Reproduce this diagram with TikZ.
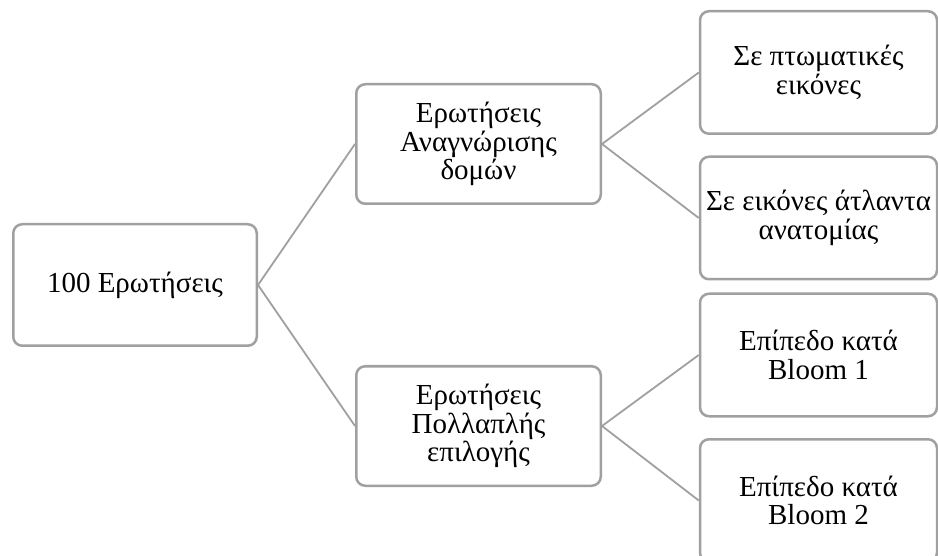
\documentclass[tikz,border=0pt]{standalone}
\usepackage{fontspec}
\setmainfont{Liberation Serif}
\usepackage{tikz}
\usetikzlibrary{positioning}

\definecolor{boxgray}{RGB}{160,160,160}

\begin{document}
\begin{tikzpicture}[
        x=1pt, y=-1pt,
        node distance=20.5pt,
        box/.style={draw=boxgray, line width=2.5pt, rounded corners=9pt, fill=white,
            align=center, inner sep=0pt, font=\fontsize{29}{28.5}\selectfont},
        leaf/.style={box, minimum width=237pt, minimum height=122.5pt},
        link/.style={draw=boxgray, line width=1.8pt}
    ]
    \useasboundingbox (0,0) rectangle (938,556);

    % Root
    \node[box, minimum width=243.5pt, minimum height=121.5pt] (root) at (135,285) {100 Ερωτήσεις};

    % Question types
    \node[box, minimum width=244.5pt, minimum height=119.5pt] (recog) at (478.5,144) {Ερωτήσεις\\Αναγνώρισης\\δομών};
    \node[box, minimum width=244.5pt, minimum height=119.5pt] (multi) at (478.5,426) {Ερωτήσεις\\Πολλαπλής\\επιλογής};

    % Subtypes
    \node[leaf] (cadaver) at (818.5,72.5) {Σε πτωματικές\\εικόνες};
    \node[leaf, below=of cadaver] (atlas) {Σε εικόνες άτλαντα\\ανατομίας};
    \node[leaf] (bloomone) at (818.5,355) {Επίπεδο κατά\\Bloom 1};
    \node[leaf, below=of bloomone] (bloomtwo) {Επίπεδο κατά\\Bloom 2};

    % Links
    \draw[link] (root.east) -- (recog.west);
    \draw[link] (root.east) -- (multi.west);
    \draw[link] (recog.east) -- (cadaver.west); \draw[link] (recog.east) -- (atlas.west);
    \draw[link] (multi.east) -- (bloomone.west); \draw[link] (multi.east) -- (bloomtwo.west);
\end{tikzpicture}
\end{document}
